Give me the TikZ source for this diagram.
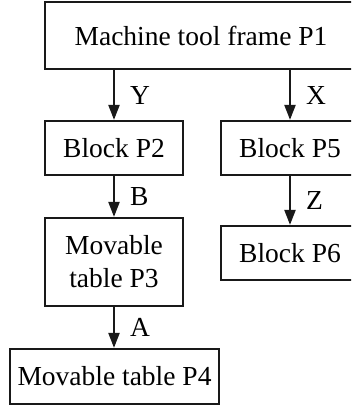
\documentclass[tikz,border=0pt]{standalone}
\usepackage{fontspec}
\setmainfont{Liberation Serif}
\usetikzlibrary{arrows.meta,calc}

\begin{document}
\begin{tikzpicture}[x=1pt,y=-1pt,
    part/.style={draw=black!90, line width=2.2pt, inner sep=0pt, align=center,
        font=\fontsize{27.5}{33}\selectfont},
    link/.style={draw=black!90, line width=2.2pt, -{Triangle[length=15pt,width=11pt]}},
    axis/.style={right=15pt, inner sep=0pt, font=\fontsize{27.5}{33}\selectfont}]

    \useasboundingbox (0,0) rectangle (351,412);
    \clip (0,0) rectangle (351,412);

    \node[part, minimum width=312pt, minimum height=67pt] at (201,35.5) (p1) {Machine tool frame P1};
    \node[part, minimum width=138pt, minimum height=54pt] at (114,148) (p2) {Block P2};
    \node[part, minimum width=138pt, minimum height=54pt] at (290,148) (p5) {Block P5};
    \node[part, minimum width=138pt, minimum height=88pt] at (114,262) (p3) {Movable\\table P3};
    \node[part, minimum width=138pt, minimum height=54pt] at (290,253) (p6) {Block P6};
    \node[part, minimum width=209pt, minimum height=55pt] at (114.5,376.5) (p4) {Movable table P4};

    \draw[link] (p2.north |- p1.south) -- node[axis] {Y} (p2.north);
    \draw[link] (p5.north |- p1.south) -- node[axis] {X} (p5.north);
    \draw[link] (p2.south) -- node[axis] {B} (p3.north);
    \draw[link] (p5.south) -- node[axis] {Z} (p6.north);
    \draw[link] (p3.south) -- node[axis] {A} (p3.south |- p4.north);
\end{tikzpicture}
\end{document}
